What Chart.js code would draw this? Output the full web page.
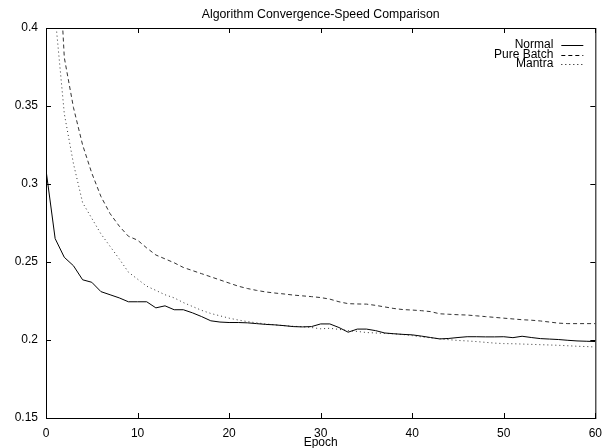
<!DOCTYPE html>
<html>
<head>
<meta charset="utf-8">
<script src="https://cdn.jsdelivr.net/npm/chart.js@4.4.1/dist/chart.umd.min.js"></script>
<style>
  html, body { margin: 0; padding: 0; background: #fff; }
  #wrap { width: 610px; height: 448px; }
</style>
</head>
<body>
<div id="wrap"><canvas id="chart"></canvas></div>
<script>
// data, one value per epoch 0..60
var epochs = [];
for (var e = 0; e <= 60; e++) epochs.push(e);

var normal = [0.309, 0.265, 0.253, 0.2476, 0.2386, 0.237, 0.231, 0.229, 0.227, 0.2245,
    0.2245, 0.2245, 0.2206, 0.2219, 0.2194, 0.2194, 0.2174, 0.215, 0.2123, 0.2115,
    0.2112, 0.2112, 0.211, 0.2105, 0.21, 0.2097, 0.2092, 0.2086, 0.2084, 0.2086,
    0.2103, 0.2103, 0.208, 0.205, 0.207, 0.207, 0.206, 0.2045, 0.204, 0.2036,
    0.2033, 0.2025, 0.2016, 0.2007, 0.201, 0.2016, 0.2021, 0.2021, 0.202, 0.202,
    0.2021, 0.2015, 0.2024, 0.2016, 0.2009, 0.2006, 0.2003, 0.1998, 0.1994, 0.1992, 0.199];

var pureBatch = [0.6, 0.49, 0.381, 0.349, 0.325, 0.307, 0.292, 0.281, 0.273, 0.2665,
    0.264, 0.259, 0.2545, 0.252, 0.2495, 0.2465, 0.2445, 0.2425, 0.2405, 0.2385,
    0.2365, 0.2345, 0.233, 0.2318, 0.2308, 0.2301, 0.2295, 0.2288, 0.2283, 0.2278,
    0.2272, 0.2262, 0.2245, 0.2233, 0.2231, 0.223, 0.2222, 0.2212, 0.2202, 0.2195,
    0.2192, 0.2188, 0.2182, 0.2168, 0.2165, 0.2162, 0.216, 0.2155, 0.215, 0.2145,
    0.214, 0.2135, 0.213, 0.2127, 0.2122, 0.2115, 0.2108, 0.2105, 0.2105, 0.2105, 0.2105];

var mantra = [0.5, 0.408, 0.345, 0.313, 0.288, 0.278, 0.268, 0.26, 0.252, 0.2435,
    0.239, 0.2345, 0.2318, 0.229, 0.227, 0.224, 0.2215, 0.219, 0.217, 0.2155,
    0.214, 0.2128, 0.2118, 0.211, 0.2103, 0.2097, 0.2092, 0.2088, 0.2085, 0.208,
    0.2072, 0.2075, 0.2068, 0.206, 0.2055, 0.2048, 0.2045, 0.2042, 0.204, 0.2035,
    0.2028, 0.202, 0.2014, 0.2008, 0.2002, 0.1997, 0.1994, 0.199, 0.1985, 0.198,
    0.1977, 0.1976, 0.1974, 0.1972, 0.197, 0.1968, 0.1966, 0.1963, 0.196, 0.1958, 0.1955];

var xTicks = [0, 10, 20, 30, 40, 50, 60];
var yTicks = [0.15, 0.2, 0.25, 0.3, 0.35, 0.4];
var chartTitle = 'Algorithm Convergence-Speed Comparison';

var FONT = 'Liberation Sans, Arial, Helvetica, sans-serif';

function pts(values) {
    return values.map(function (v, i) { return { x: epochs[i], y: v }; });
}

// gnuplot style frame with inward ticks, title over the plot and the key in the top right
var framePlugin = {
    id: 'frame',
    afterDraw: function (chart) {
        var ctx = chart.ctx;
        var a = chart.chartArea;
        var xs = chart.scales.x, ys = chart.scales.y;
        ctx.save();
        ctx.strokeStyle = '#000';
        ctx.lineWidth = 1;
        ctx.setLineDash([]);
        ctx.strokeRect(a.left + 0.5, a.top + 0.5, a.right - a.left, a.bottom - a.top);
        ctx.beginPath();
        xTicks.forEach(function (t) {
            var px = Math.round(xs.getPixelForValue(t)) + 0.5;
            ctx.moveTo(px, a.bottom); ctx.lineTo(px, a.bottom - 5);
            ctx.moveTo(px, a.top); ctx.lineTo(px, a.top + 5);
        });
        yTicks.forEach(function (t) {
            var py = Math.round(ys.getPixelForValue(t)) + 0.5;
            ctx.moveTo(a.left, py); ctx.lineTo(a.left + 5, py);
            ctx.moveTo(a.right, py); ctx.lineTo(a.right - 5, py);
        });
        ctx.stroke();

        ctx.fillStyle = '#000';
        ctx.textBaseline = 'middle';

        // title, centred on the plot
        ctx.font = '12.3px ' + FONT;
        ctx.textAlign = 'center';
        ctx.fillText(chartTitle, (a.left + a.right) / 2, 15);

        // key
        ctx.font = '12px ' + FONT;
        ctx.textAlign = 'right';
        chart.data.datasets.forEach(function (ds, i) {
            var y = a.top + 17 + i * 9.5;
            ctx.fillText(ds.label, a.right - 42, y);
            ctx.beginPath();
            ctx.setLineDash(ds.borderDash || []);
            ctx.moveTo(a.right - 34, Math.round(y) + 0.5);
            ctx.lineTo(a.right - 12, Math.round(y) + 0.5);
            ctx.stroke();
        });
        ctx.restore();
    }
};

new Chart(document.getElementById('chart'), {
    type: 'line',
    data: {
        datasets: [
            { label: 'Normal', data: pts(normal), borderColor: '#000', borderWidth: 1, pointRadius: 0, tension: 0 },
            { label: 'Pure Batch', data: pts(pureBatch), borderColor: '#333', borderWidth: 1, borderDash: [4, 3], pointRadius: 0, tension: 0 },
            { label: 'Mantra', data: pts(mantra), borderColor: '#333', borderWidth: 1, borderDash: [1, 3], pointRadius: 0, tension: 0 }
        ]
    },
    options: {
        responsive: true,
        maintainAspectRatio: false,
        animation: false,
        layout: { padding: { left: 0, right: 7, top: 28, bottom: 0 } },
        plugins: {
            legend: { display: false },
            tooltip: { enabled: false },
            title: { display: false }
        },
        scales: {
            x: {
                type: 'linear',
                min: 0, max: 60,
                grid: { display: false, drawTicks: false },
                border: { display: false },
                afterBuildTicks: function (s) { s.ticks = xTicks.map(function (v) { return { value: v }; }); },
                afterFit: function (s) { s.height = 30; },
                ticks: { color: '#000', padding: 8, maxRotation: 0, font: { family: FONT, size: 12 } },
                title: { display: true, text: 'Epoch', color: '#000', padding: { top: 0, bottom: -2 }, font: { family: FONT, size: 12 } }
            },
            y: {
                min: 0.15, max: 0.4,
                grid: { display: false, drawTicks: false },
                border: { display: false },
                afterBuildTicks: function (s) { s.ticks = yTicks.map(function (v) { return { value: v }; }); },
                afterFit: function (s) { s.width = 46; },
                ticks: {
                    color: '#000', padding: 8, font: { family: FONT, size: 12 },
                    callback: function (v) { return String(+v.toFixed(2)); }
                }
            }
        }
    },
    plugins: [framePlugin]
});
</script>
</body>
</html>
